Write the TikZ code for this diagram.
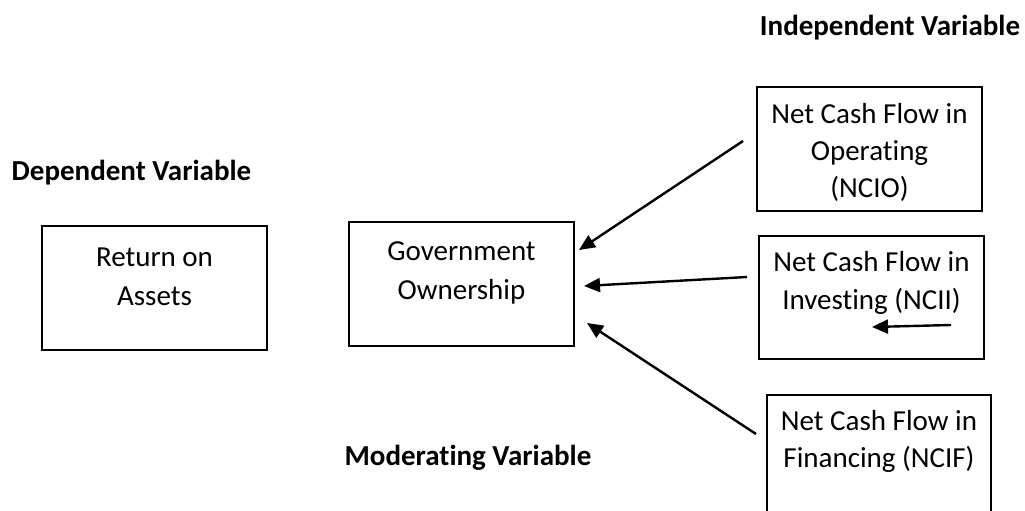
\documentclass[tikz,border=0pt]{standalone}
\usepackage{fontspec}
\setmainfont[Ligatures={NoCommon}]{Carlito}
\usetikzlibrary{arrows.meta,calc}
\begin{document}
\begin{tikzpicture}[x=1pt,y=-1pt,
  box/.style={draw=black, line width=2pt, minimum width=225pt, minimum height=124pt, inner sep=0pt},
  txt/.style={font=\fontsize{29}{39}\selectfont, align=center, inner sep=0pt},
  head/.style={font=\bfseries\fontsize{29}{39}\selectfont, inner sep=0pt},
  arr/.style={line width=2.4pt, -{Triangle[length=16pt,width=14pt]}}]
\useasboundingbox (0,0) rectangle (1025,511);
\clip (0,0) rectangle (1025,511);
% boxes
\node[box] (roa) at (154.5,288) {};
\node[txt] (roat) at (154.5,277) {Return on\\Assets};
\node[box] (gov) at (461.5,284) {};
\node[txt] (govt) at (461.5,273) {Government\\Ownership};
\node[box] (ncio) at (869.5,149) {};
\node[txt, font=\fontsize{29}{37}\selectfont] (nciot) at (869.5,152) {Net Cash Flow in\\Operating\\(NCIO)};
\node[box, minimum height=123pt] (ncii) at (871.5,297.5) {};
\node[txt, font=\fontsize{29}{38}\selectfont] (nciit) at (871.5,283) {Net Cash Flow in\\Investing (NCII)};
\node[box, minimum height=150pt, minimum width=224pt] (ncif) at (879,470) {};
\node[txt, font=\fontsize{29}{37}\selectfont] (ncift) at (879,441.5) {Net Cash Flow in\\Financing (NCIF)};
% headings
\node[head] (iv) at (890,28) {Independent Variable};
\node[head] (dv) at (131.5,173) {Dependent Variable};
\node[head] (mv) at (468,458) {Moderating Variable};
% arrows
\draw[arr] ($(ncio.west)+(-13,-8)$) -- ($(gov.east)+(4,-34)$);
\draw[arr] ($(ncii.west)+(-11,-20.5)$) -- ($(gov.east)+(9,2)$);
\draw[arr] ($(ncif.west)+(-10,-36)$) -- ($(gov.east)+(12,39)$);
\coordinate (sa) at ($(ncii.center)+(79.5,27.5)$);
\coordinate (sb) at ($(ncii.center)+(0.5,29.5)$);
\draw[arr] (sa) -- (sb);
\end{tikzpicture}
\end{document}
